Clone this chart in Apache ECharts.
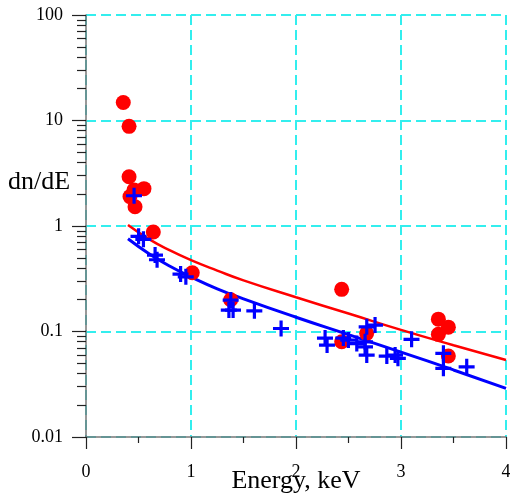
<!DOCTYPE html>
<html>
<head>
<meta charset="utf-8">
<script src="https://cdn.jsdelivr.net/npm/echarts@6/dist/echarts.min.js"></script>
<style>
  html, body { margin: 0; padding: 0; background: #fff; }
  #chart { width: 510px; height: 499px; }
</style>
</head>
<body>
<div id="chart"></div>
<script>
// measured points (red dots)
var redE = [0.355, 0.41, 0.41, 0.552, 0.457, 0.419, 0.467, 0.641, 1.012, 1.378, 2.435, 2.435, 2.673, 3.356, 3.451, 3.356, 3.451];
var redV = [14.8, 8.8, 2.93, 2.26, 2.19, 1.90, 1.52, 0.877, 0.361, 0.200, 0.251, 0.080, 0.096, 0.131, 0.110, 0.094, 0.0586];
// measured points (blue crosses)
var blueE = [0.457, 0.50, 0.546, 0.657, 0.676, 0.90, 0.95, 1.378, 1.36, 1.40, 1.603, 1.857, 2.276, 2.295, 2.45, 2.498, 2.578,
    2.673, 2.752, 2.657, 2.657, 2.673, 2.864, 2.943, 2.97, 3.10, 3.403, 3.403, 3.625];
var blueV = [1.94, 0.80, 0.75, 0.53, 0.48, 0.35, 0.33, 0.199, 0.16, 0.16, 0.157, 0.107, 0.0867, 0.0745, 0.0867, 0.083, 0.077,
    0.111, 0.115, 0.080, 0.0718, 0.0598, 0.0586, 0.0598, 0.0557, 0.0843, 0.0621, 0.0448, 0.0464];
// model curves
var curveE = [0.4, 0.6, 0.8, 1.0, 1.25, 1.5, 2.0, 2.5, 3.0, 3.5, 4.0];
var redCurve = [1.02, 0.75, 0.586, 0.475, 0.378, 0.305, 0.211, 0.148, 0.1035, 0.0741, 0.0537];
var blueCurve = [0.757, 0.546, 0.415, 0.329, 0.254, 0.204, 0.1365, 0.0933, 0.0638, 0.0432, 0.0289];
// axis ticks
var xTicks = [0, 1, 2, 3, 4];
var yTicks = [0.01, 0.1, 1, 10, 100];
var yMinor = [0.02, 0.03, 0.04, 0.05, 0.06, 0.07, 0.08, 0.09,
    0.2, 0.3, 0.4, 0.5, 0.6, 0.7, 0.8, 0.9,
    2, 3, 4, 5, 6, 7, 8, 9,
    20, 30, 40, 50, 60, 70, 80, 90];

function pairs(a, b) {
    var out = [];
    for (var i = 0; i < a.length; i++) out.push([a[i], b[i]]);
    return out;
}

var FONT = 'Liberation Serif';
var plus = 'path://M6.5,0h3.2v16h-3.2z M0,6.5h16v3.2h-16z';

var myChart = echarts.init(document.getElementById('chart'));
var option = {
    backgroundColor: '#fff',
    animation: false,
    grid: { left: 86, right: 4, top: 15, bottom: 62, containLabel: false, outerBoundsMode: 'none' },
    graphic: [{
        type: 'text',
        x: 8, y: 182,
        style: { text: 'dn/dE', font: '26px "' + FONT + '"', fill: '#000', textVerticalAlign: 'middle' }
    }],
    xAxis: {
        type: 'value',
        min: xTicks[0],
        max: xTicks[xTicks.length - 1],
        interval: 1,
        name: 'Energy, keV',
        nameLocation: 'middle',
        nameGap: 31,
        nameMoveOverlap: false,
        nameTextStyle: { fontFamily: FONT, fontSize: 26, color: '#000' },
        axisLine: { lineStyle: { color: '#777', width: 1.5 } },
        axisTick: { inside: false, length: 12, lineStyle: { color: '#222', width: 1.2 } },
        minorTick: { show: true, splitNumber: 2, length: 6, lineStyle: { color: '#222', width: 1.2 } },
        axisLabel: { margin: 26, fontFamily: FONT, fontSize: 18, color: '#000' },
        splitLine: { show: true, lineStyle: { color: '#33eeee', width: 2, type: [10, 5] } }
    },
    yAxis: [{
        type: 'log',
        logBase: 10,
        min: yTicks[0],
        max: yTicks[yTicks.length - 1],
        axisLine: { lineStyle: { color: '#777', width: 1.5 } },
        axisTick: { length: 14, lineStyle: { color: '#222', width: 1.2 } },
        axisLabel: {
            margin: 23, fontFamily: FONT, fontSize: 18, color: '#000',
            formatter: function (v) { return String(+(+v).toPrecision(3)); }
        },
        splitLine: { show: true, lineStyle: { color: '#33eeee', width: 2, type: [10, 5] } }
    }, {
        type: 'log',
        logBase: 10,
        position: 'left',
        min: yTicks[0],
        max: yTicks[yTicks.length - 1],
        axisLine: { show: false },
        axisLabel: { show: false },
        splitLine: { show: false },
        axisTick: { show: true, length: 9, customValues: yMinor, lineStyle: { color: '#222', width: 1.2 } }
    }],
    series: [{
        name: 'model1',
        type: 'line',
        smooth: true,
        showSymbol: false,
        data: pairs(curveE, redCurve),
        lineStyle: { color: '#ff0000', width: 2.5 },
        z: 3
    }, {
        name: 'model2',
        type: 'line',
        smooth: true,
        showSymbol: false,
        data: pairs(curveE, blueCurve),
        lineStyle: { color: '#0000ff', width: 3 },
        z: 3
    }, {
        name: 'red',
        type: 'scatter',
        symbol: 'circle',
        symbolSize: 15,
        data: pairs(redE, redV),
        itemStyle: { color: '#ff0000', opacity: 1 },
        z: 4
    }, {
        name: 'blue',
        type: 'scatter',
        symbol: plus,
        symbolSize: [16, 16],
        data: pairs(blueE, blueV),
        itemStyle: { color: '#0000ff', opacity: 1 },
        z: 5
    }]
};
myChart.setOption(option);
</script>
</body>
</html>
